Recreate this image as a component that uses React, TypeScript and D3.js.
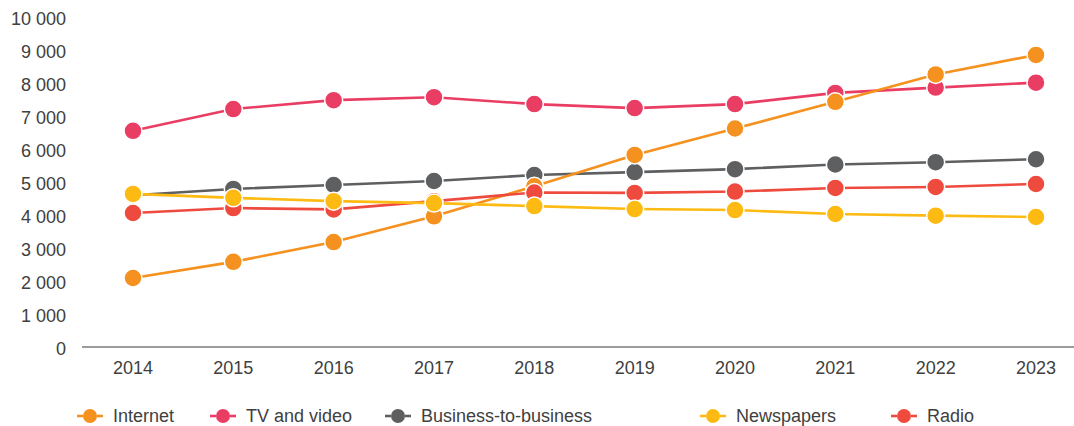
import React from 'react'
import * as d3 from 'd3'

const years = ['2014', '2015', '2016', '2017', '2018', '2019', '2020', '2021', '2022', '2023']
const yTicks = [0, 1000, 2000, 3000, 4000, 5000, 6000, 7000, 8000, 9000, 10000]

const internet = [2090, 2580, 3180, 3960, 4870, 5820, 6620, 7430, 8260, 8850]
const tvAndVideo = [6550, 7210, 7480, 7570, 7360, 7240, 7360, 7700, 7860, 8010]
const businessToBusiness = [4600, 4790, 4910, 5030, 5210, 5300, 5390, 5530, 5600, 5690]
const newspapers = [4640, 4520, 4420, 4360, 4270, 4180, 4150, 4030, 3980, 3940]
const radio = [4060, 4210, 4170, 4420, 4680, 4670, 4710, 4820, 4850, 4940]

const seriesNames = ['Internet', 'TV and video', 'Business-to-business', 'Newspapers', 'Radio']
const seriesValues = [internet, tvAndVideo, businessToBusiness, newspapers, radio]

// drawing style, kept apart from the data
const colors = ['#f5911e', '#ea3d63', '#5e5f61', '#fdba12', '#ee4a3d']
const drawOrder = [1, 2, 0, 4, 3]
const legendX = [90, 223, 398, 713, 904]

const width = 1074
const height = 426
const plotLeft = 82
const plotRight = 1074
const font = '"Liberation Sans", Arial, Helvetica, sans-serif'

const App = () => {
    const x = d3.scalePoint<string>().domain(years).range([133, 1036])
    const y = d3.scaleLinear().domain([0, 10000]).range([347, 17])
    const fmt = (v: number) => d3.format(',')(v).replace(/,/g, ' ')

    const line = d3.line<number>()
        .x((_, i) => x(years[i]) as number)
        .y((v) => y(v))

    return (
        <svg
            width={width}
            height={height}
            style={{ position: 'absolute', left: 0, top: 0, background: '#fff' }}
            fontFamily={font}
        >
            {/* y tick labels */}
            <g>
                {yTicks.map((t) => (
                    <text
                        key={t}
                        x={66}
                        y={y(t) + 2}
                        textAnchor='end'
                        dominantBaseline='central'
                        fontSize={18}
                        fill='#404040'
                    >
                        {fmt(t)}
                    </text>
                ))}
            </g>
            {/* baseline */}
            <line x1={plotLeft} x2={plotRight} y1={y(0)} y2={y(0)} stroke='#3a3a3a' strokeWidth={1.2} />
            {/* x tick labels */}
            <g>
                {years.map((yr) => (
                    <text
                        key={yr}
                        x={x(yr)}
                        y={374}
                        textAnchor='middle'
                        fontSize={18}
                        fill='#404040'
                    >
                        {yr}
                    </text>
                ))}
            </g>
            {/* series */}
            {drawOrder.map((si) => (
                <g key={seriesNames[si]}>
                    <path
                        d={line(seriesValues[si]) as string}
                        fill='none'
                        stroke={colors[si]}
                        strokeWidth={2.6}
                    />
                    {seriesValues[si].map((v, i) => (
                        <circle
                            key={i}
                            cx={x(years[i])}
                            cy={y(v)}
                            r={9}
                            fill={colors[si]}
                            stroke='#fff'
                            strokeWidth={1.5}
                        />
                    ))}
                </g>
            ))}
            {/* legend */}
            <g>
                {seriesNames.map((name, i) => (
                    <g key={name} transform={`translate(${legendX[i]}, 416)`}>
                        <line x1={-13} x2={-7} y1={0} y2={0} stroke={colors[i]} strokeWidth={2.6} />
                        <line x1={7} x2={13} y1={0} y2={0} stroke={colors[i]} strokeWidth={2.6} />
                        <circle r={7} fill={colors[i]} />
                        <text x={23} y={0} dominantBaseline='central' fontSize={18} fill='#404040'>
                            {name}
                        </text>
                    </g>
                ))}
            </g>
        </svg>
    )
}

export default App
